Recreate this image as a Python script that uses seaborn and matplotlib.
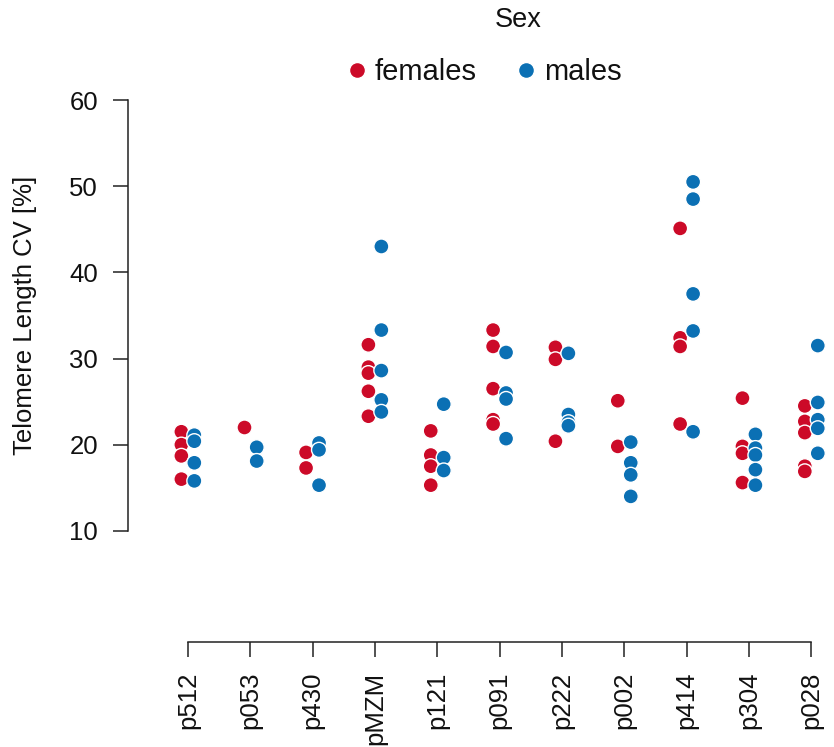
import matplotlib
matplotlib.use('Agg')
import matplotlib.pyplot as plt
import matplotlib.transforms as mtransforms
from matplotlib.lines import Line2D
import numpy as np
import pandas as pd
import seaborn as sns

# patients in plotting order
patients = ['p512', 'p053', 'p430', 'pMZM', 'p121', 'p091',
            'p222', 'p002', 'p414', 'p304', 'p028']
sexes = ['females', 'males']
colors = {'females': '#CC0A28', 'males': '#0B70B4'}

# telomere length CV (%) per patient
female_cv = [
    [21.5, 20.0, 18.7, 16.0],
    [22.0],
    [19.1, 17.3],
    [31.6, 29.0, 28.3, 26.2, 23.3],
    [21.6, 18.8, 17.5, 15.3],
    [33.3, 31.4, 26.5, 22.9, 22.4],
    [31.3, 29.9, 20.4],
    [25.1, 19.8],
    [45.1, 32.4, 31.4, 22.4],
    [25.4, 19.8, 19.0, 15.6],
    [24.5, 22.7, 21.4, 17.5, 16.9],
]
male_cv = [
    [21.1, 20.4, 17.9, 15.8],
    [19.7, 18.1],
    [20.2, 19.4, 15.3],
    [43.0, 33.3, 28.6, 25.2, 23.8],
    [24.7, 18.5, 17.0],
    [30.7, 26.0, 25.3, 20.7],
    [30.6, 23.5, 22.6, 22.2],
    [20.3, 17.9, 16.5, 14.0],
    [50.5, 48.5, 37.5, 33.2, 21.5],
    [21.2, 19.6, 18.8, 17.1, 15.3],
    [31.5, 24.9, 22.9, 21.9, 19.0],
]

rows = []
for p, fv, mv in zip(patients, female_cv, male_cv):
    rows += [(p, 'females', v) for v in fv]
    rows += [(p, 'males', v) for v in mv]
df = pd.DataFrame(rows, columns=['patient', 'sex', 'cv'])

sns.set_theme(style='ticks')
plt.rcParams['font.family'] = ['Liberation Sans', 'DejaVu Sans']

fig = plt.figure(figsize=(8.34, 7.47), dpi=100)
ax = fig.add_axes([128 / 834, 105 / 747, 702 / 834, 542 / 747])

sns.stripplot(data=df, x='patient', y='cv', hue='sex', order=patients,
              hue_order=sexes, palette=colors, dodge=True, jitter=False,
              size=10.8, edgecolor='white', linewidth=1, legend=False, ax=ax)

# pull the two sexes closer together than seaborn's default dodge
for coll in ax.collections:
    off = coll.get_offsets()
    if len(off) == 0:
        continue
    xc = np.round(off[:, 0])
    off[:, 0] = xc + (off[:, 0] - xc) * 0.52
    coll.set_offsets(off)

ax.set_xlim(-0.96, 10.3)
ax.set_ylim(-2.9, 60)
ax.set_yticks([10, 20, 30, 40, 50, 60])
sns.despine(ax=ax)
ax.spines['left'].set_bounds(10, 60)
ax.spines['bottom'].set_bounds(0, 10)
for s in ['left', 'bottom']:
    ax.spines[s].set_linewidth(1.1)
    ax.spines[s].set_color('#222222')
ax.tick_params(length=10.5, width=1.1, color='#222222', labelsize=18.5,
               pad=11, labelcolor='#111111')
ax.tick_params(axis='x', labelrotation=90)
ax.set_xlabel('')
ax.set_ylabel('Telomere Length CV [%]', fontsize=18.5, color='#111111')
ax.yaxis.set_label_coords(-0.129, 35,
                          transform=mtransforms.blended_transform_factory(ax.transAxes, ax.transData))

handles = [Line2D([], [], linestyle='none', marker='o', markersize=11.5,
                  markerfacecolor=colors[s], markeredgecolor='white') for s in sexes]
fig.legend(handles, sexes, loc='center', bbox_to_anchor=(484 / 834, 1 - 72 / 747),
           ncol=2, frameon=False, fontsize=21, handlelength=0.7,
           handletextpad=0.27, columnspacing=1.34, labelcolor='#111111')
fig.text(518 / 834, 1 - 20 / 747, 'Sex', ha='center', va='center',
         fontsize=19.5, color='#111111')

fig.savefig('out.png', dpi=100)
